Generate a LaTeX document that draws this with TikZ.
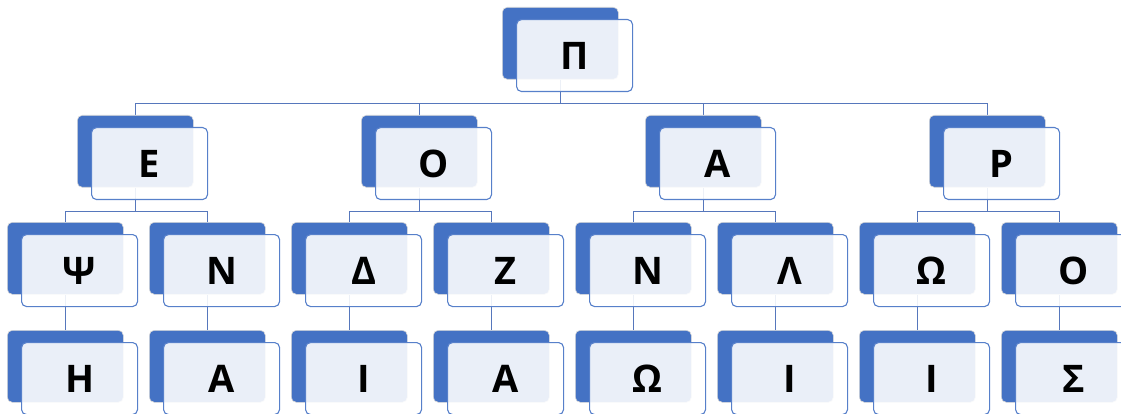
\documentclass[tikz,border=0pt]{standalone}
\usepackage{fontspec}
\setmainfont{Open Sans}
\usetikzlibrary{backgrounds}
\definecolor{accent}{HTML}{4472C4}
\definecolor{conn}{HTML}{5677BC}
\begin{document}
\begin{tikzpicture}[x=1pt,y=-1pt,
  backbox/.style={rectangle,rounded corners=5pt,fill=accent,draw=black!15,line width=0.6pt,
    minimum width=116pt,minimum height=72pt,inner sep=0pt,anchor=north west},
  frontbox/.style={rectangle,rounded corners=5pt,fill=white,fill opacity=0.89,text opacity=1,
    draw=accent!90,line width=1.1pt,minimum width=116pt,minimum height=72pt,inner sep=0pt,
    anchor=north west,font=\fontsize{38}{38}\selectfont\bfseries,text=black},
  link/.style={draw=conn,line width=1pt}]
\useasboundingbox (0,0) rectangle (1121,414);
\newcommand{\card}[4]{%
  \node[backbox] (#1b) at (#2,#3) {};
  \node[frontbox] (#1f) at (#2+14,#3+12) {#4};}
% cards
\card{P}{502}{7}{Π}
\card{E}{77}{115}{Ε}
\card{O}{361}{115}{Ο}
\card{A}{645}{115}{Α}
\card{R}{929}{115}{Ρ}
\card{c1}{7}{222}{Ψ}
\card{c2}{149}{222}{Ν}
\card{c3}{291}{222}{Δ}
\card{c4}{433}{222}{Ζ}
\card{c5}{575}{222}{Ν}
\card{c6}{717}{222}{Λ}
\card{c7}{859}{222}{Ω}
\card{c8}{1001}{222}{Ο}
\card{d1}{7}{330}{Η}
\card{d2}{149}{330}{Α}
\card{d3}{291}{330}{Ι}
\card{d4}{433}{330}{Α}
\card{d5}{575}{330}{Ω}
\card{d6}{717}{330}{Ι}
\card{d7}{859}{330}{Ι}
\card{d8}{1001}{330}{Σ}
% connectors, under the cards
\begin{scope}[on background layer]
\foreach \c in {E,O,A,R}{\draw[link] (Pb.south) -- ++(0,24) -| (\c b.north);}
\foreach \p/\a/\b in {E/c1/c2,O/c3/c4,A/c5/c6,R/c7/c8}{
  \draw[link] (\p b.south) -- ++(0,24) -| (\a b.north);
  \draw[link] (\p b.south) -- ++(0,24) -| (\b b.north);}
\foreach \i in {1,...,8}{\draw[link] (c\i b.south) -- (d\i b.north);}
\end{scope}
\end{tikzpicture}
\end{document}
